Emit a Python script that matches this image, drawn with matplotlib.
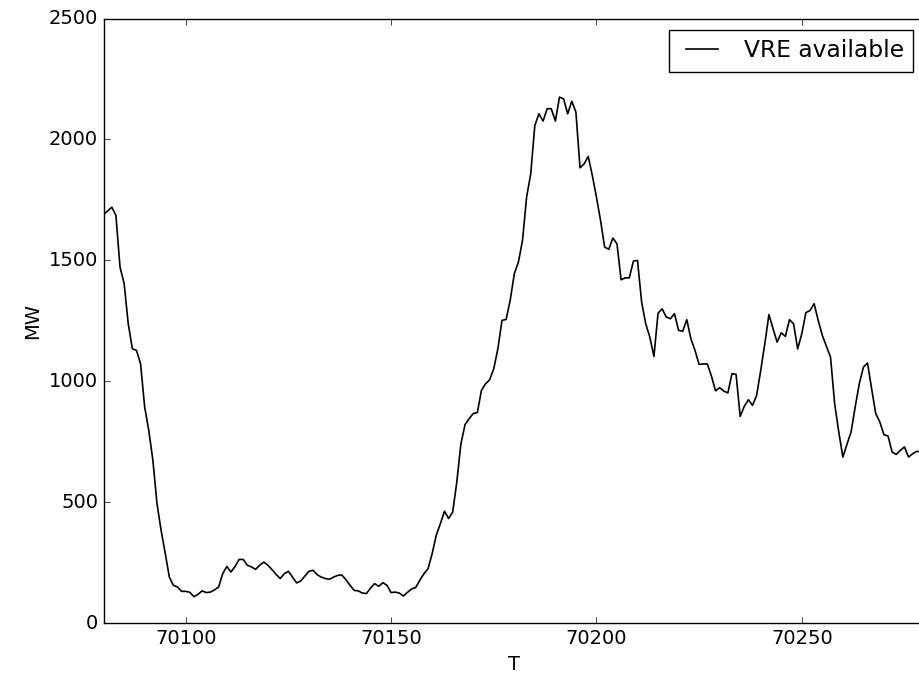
import matplotlib
matplotlib.use("Agg")
import matplotlib.pyplot as plt
import numpy as np

plt.style.use("classic")
plt.rcParams["font.size"] = 14

t_start = 70080
vre_available = [
    1690, 1705, 1720, 1686, 1472, 1404, 1238, 1135, 1128, 1073,   # 70080-70089
    894, 797, 674, 495, 384, 290, 191, 157, 150, 132,             # 70090-70099
    132, 128, 110, 120, 134, 127, 129, 138, 150, 205,             # 70100-70109
    235, 212, 235, 264, 264, 240, 233, 223, 240, 253,             # 70110-70119
    240, 222, 202, 185, 205, 215, 191, 167, 175, 195,             # 70120-70129
    215, 219, 201, 191, 185, 182, 191, 198, 200, 180,             # 70130-70139
    157, 136, 134, 125, 123, 146, 164, 153, 168, 157,             # 70140-70149
    127, 129, 125, 113, 128, 142, 148, 178, 205, 226,             # 70150-70159
    288, 364, 412, 463, 433, 460, 584, 742, 821, 846,             # 70160-70169
    867, 871, 963, 990, 1007, 1052, 1135, 1252, 1256, 1335,       # 70170-70179
    1445, 1493, 1583, 1762, 1858, 2058, 2106, 2076, 2127, 2127,   # 70180-70189
    2076, 2175, 2168, 2106, 2158, 2113, 1883, 1899, 1930, 1851,   # 70190-70199
    1762, 1665, 1555, 1546, 1592, 1569, 1420, 1428, 1428, 1497,   # 70200-70209
    1500, 1328, 1238, 1183, 1103, 1282, 1300, 1266, 1259, 1280,   # 70210-70219
    1211, 1207, 1255, 1176, 1128, 1070, 1072, 1072, 1022, 961,    # 70220-70229
    974, 960, 952, 1032, 1029, 855, 897, 924, 901, 942,           # 70230-70239
    1045, 1156, 1276, 1218, 1162, 1201, 1186, 1255, 1238, 1134,   # 70240-70249
    1197, 1284, 1293, 1321, 1252, 1190, 1145, 1100, 908, 791,     # 70250-70259
    687, 740, 791, 894, 990, 1059, 1076, 970, 867, 832,           # 70260-70269
    780, 774, 708, 698, 715, 729, 687, 701, 711, 708,             # 70270-70279
    708,                                                          # 70280
]
t_values = np.arange(t_start, t_start + len(vre_available))

x_ticks = [70100, 70150, 70200, 70250]
y_ticks = [0, 500, 1000, 1500, 2000, 2500]

W, H = 920, 675
fig = plt.figure(figsize=(W / 100, H / 100), dpi=100, facecolor="white")
left, right, top, bottom = 103.6, 925.0, 18.5, 623.3
ax = fig.add_axes([left / W, 1 - bottom / H, (right - left) / W, (bottom - top) / H])

ax.plot(t_values, vre_available, color="k", linewidth=1.2, label="VRE available")
ax.set_xlim(70080, 70280)
ax.set_ylim(0, 2500)
ax.set_xticks(x_ticks)
ax.set_yticks(y_ticks)
ax.ticklabel_format(useOffset=False, style="plain")
ax.set_xlabel("T")
ax.set_ylabel("MW")
ax.legend(loc="upper right")

fig.savefig("out.png", dpi=100, facecolor="white")
